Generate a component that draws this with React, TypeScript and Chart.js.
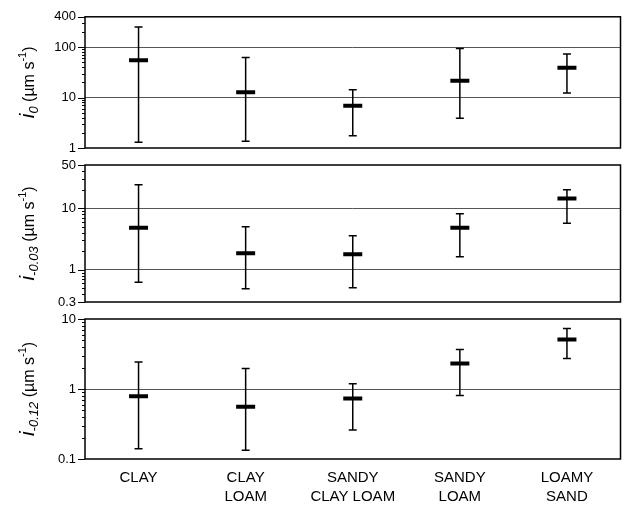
import React, { useEffect, useRef } from "react";
import { Chart, registerables } from "chart.js";

Chart.register(...registerables);

// ---------- data ----------
const categories: string[][] = [
  ["CLAY"],
  ["CLAY", "LOAM"],
  ["SANDY", "CLAY LOAM"],
  ["SANDY", "LOAM"],
  ["LOAMY", "SAND"],
];

// i_0 (µm s-1)
const i0Min = [1.3, 1.36, 1.74, 3.9, 12.3];
const i0Median = [55, 12.8, 6.85, 21.6, 39];
const i0Max = [252, 62, 14.3, 94, 73];

// i_-0.03 (µm s-1)
const i003Min = [0.63, 0.49, 0.51, 1.62, 5.7];
const i003Median = [4.8, 1.86, 1.79, 4.8, 14.3];
const i003Max = [24, 5.0, 3.57, 8.1, 19.8];

// i_-0.12 (µm s-1)
const i012Min = [0.14, 0.133, 0.26, 0.81, 2.72];
const i012Median = [0.79, 0.56, 0.73, 2.31, 5.1];
const i012Max = [2.44, 1.96, 1.19, 3.66, 7.3];

// tick labels
const i0Ticks = [1, 10, 100, 400];
const i003Ticks = [0.3, 1, 10, 50];
const i012Ticks = [0.1, 1, 10];

const i0Sub = "0";
const i003Sub = "-0.03";
const i012Sub = "-0.12";

// ---------- styling ----------
const FONT = '"Liberation Sans", Arial, Helvetica, sans-serif';
const W = 634;
const H = 505;
const PLOT_LEFT = 85;
const PLOT_RIGHT = 633;

type Panel = {
  lo: number[];
  med: number[];
  hi: number[];
  ticks: number[];
  sub: string;
  top: number;
  bottom: number;
  showX: boolean;
};

const panels: Panel[] = [
  { lo: i0Min, med: i0Median, hi: i0Max, ticks: i0Ticks, sub: i0Sub, top: 10, bottom: 148, showX: false },
  { lo: i003Min, med: i003Median, hi: i003Max, ticks: i003Ticks, sub: i003Sub, top: 165, bottom: 302, showX: false },
  { lo: i012Min, med: i012Median, hi: i012Max, ticks: i012Ticks, sub: i012Sub, top: 319, bottom: 459, showX: true },
];

function makeChart(canvas: HTMLCanvasElement, p: Panel) {
  const yMin = p.ticks[0];
  const yMax = p.ticks[p.ticks.length - 1];
  const X_AXIS_H = p.showX ? 46 : 0;

  const whiskers = {
    id: "whiskers",
    beforeDatasetsDraw(chart: any) {
      const { ctx } = chart;
      const x = chart.scales.x;
      const y = chart.scales.y;
      ctx.save();
      ctx.strokeStyle = "#000";
      ctx.lineWidth = 1.5;
      p.lo.forEach((lo, i) => {
        const px = x.getPixelForValue(i);
        const y1 = y.getPixelForValue(lo);
        const y2 = y.getPixelForValue(p.hi[i]);
        ctx.beginPath();
        ctx.moveTo(px, y1);
        ctx.lineTo(px, y2);
        ctx.moveTo(px - 4, y1);
        ctx.lineTo(px + 4, y1);
        ctx.moveTo(px - 4, y2);
        ctx.lineTo(px + 4, y2);
        ctx.stroke();
      });
      ctx.restore();
    },
  };

  const frame = {
    id: "frame",
    afterDraw(chart: any) {
      const { ctx, chartArea } = chart;
      const y = chart.scales.y;
      ctx.save();
      ctx.strokeStyle = "#000";
      ctx.lineWidth = 1.5;
      ctx.strokeRect(chartArea.left, chartArea.top, chartArea.right - chartArea.left, chartArea.bottom - chartArea.top);
      // minor / major tick marks on the left axis
      ctx.lineWidth = 1;
      const d0 = Math.floor(Math.log10(yMin));
      const d1 = Math.ceil(Math.log10(yMax));
      for (let d = d0; d <= d1; d++) {
        for (let k = 1; k <= 9; k++) {
          const v = parseFloat((k * Math.pow(10, d)).toPrecision(6));
          if (v < yMin - 1e-9 || v > yMax + 1e-9) continue;
          const major = k === 1 || p.ticks.includes(v);
          const len = major ? 7 : 3;
          const py = Math.round(y.getPixelForValue(v)) + 0.5;
          ctx.beginPath();
          ctx.moveTo(chartArea.left - len, py);
          ctx.lineTo(chartArea.left, py);
          ctx.stroke();
        }
      }
      for (const v of [yMin, yMax]) {
        const py = Math.round(y.getPixelForValue(v)) + 0.5;
        ctx.beginPath();
        ctx.moveTo(chartArea.left - 7, py);
        ctx.lineTo(chartArea.left, py);
        ctx.stroke();
      }
      ctx.restore();

      // rotated y title: i_sub (µm s^-1)
      const segs = [
        { t: "i", f: `italic 21px ${FONT}`, dy: 0 },
        { t: p.sub, f: `italic 13px ${FONT}`, dy: 4 },
        { t: " (\u00b5m s", f: `16px ${FONT}`, dy: 0 },
        { t: "-1", f: `11px ${FONT}`, dy: -8 },
        { t: ")", f: `16px ${FONT}`, dy: 0 },
      ];
      ctx.save();
      let total = 0;
      const widths = segs.map((s) => {
        ctx.font = s.f;
        const w = ctx.measureText(s.t).width;
        total += w;
        return w;
      });
      const cy = (chartArea.top + chartArea.bottom) / 2;
      ctx.translate(34, cy);
      ctx.rotate(-Math.PI / 2);
      ctx.fillStyle = "#000";
      ctx.textBaseline = "alphabetic";
      ctx.textAlign = "left";
      let xPos = -total / 2;
      segs.forEach((s, i) => {
        ctx.font = s.f;
        ctx.fillText(s.t, xPos, s.dy);
        xPos += widths[i];
      });
      ctx.restore();
    },
  };

  return new Chart(canvas, {
    type: "line",
    data: {
      labels: categories as any,
      datasets: [
        {
          data: p.med,
          showLine: false,
          pointStyle: "line",
          pointRadius: 9.5,
          pointHoverRadius: 9.5,
          borderWidth: 4,
          borderColor: "#000",
          backgroundColor: "#000",
        },
      ],
    },
    options: {
      responsive: false,
      animation: false,
      events: [],
      layout: {
        padding: {
          left: 0,
          right: W - PLOT_RIGHT,
          top: p.top,
          bottom: H - p.bottom - X_AXIS_H,
        },
      },
      plugins: {
        legend: { display: false },
        tooltip: { enabled: false },
        title: { display: false },
      },
      scales: {
        x: {
          type: "category",
          offset: true,
          display: p.showX,
          grid: { display: false, drawTicks: false },
          border: { display: false },
          ticks: {
            color: "#000",
            padding: 9,
            maxRotation: 0,
            autoSkip: false,
            font: { family: FONT, size: 15, lineHeight: 1.27 },
          },
          afterFit: (s: any) => {
            s.height = X_AXIS_H;
          },
        },
        y: {
          type: "logarithmic",
          min: yMin,
          max: yMax,
          grid: {
            drawTicks: false,
            lineWidth: 1,
            color: (c: any) =>
              c.tick && (c.tick.value === yMin || c.tick.value === yMax) ? "rgba(0,0,0,0)" : "#555",
          },
          border: { display: false },
          ticks: {
            color: "#000",
            padding: 9,
            autoSkip: false,
            font: { family: FONT, size: 13 },
            callback: (v: any) => String(v),
          },
          afterBuildTicks: (s: any) => {
            s.ticks = p.ticks.map((v) => ({ value: v }));
          },
          afterFit: (s: any) => {
            s.width = PLOT_LEFT;
          },
        },
      },
    },
    plugins: [whiskers, frame],
  } as any);
}

export default function App() {
  const r0 = useRef<HTMLCanvasElement>(null);
  const r1 = useRef<HTMLCanvasElement>(null);
  const r2 = useRef<HTMLCanvasElement>(null);

  useEffect(() => {
    const refs = [r0, r1, r2];
    const charts = panels.map((p, i) => makeChart(refs[i].current as HTMLCanvasElement, p));
    return () => charts.forEach((c) => c.destroy());
  }, []);

  const cs: React.CSSProperties = { position: "absolute", left: 0, top: 0 };
  return (
    <div style={{ position: "fixed", left: 0, top: 0, width: W, height: H, background: "#fff" }}>
      <canvas ref={r0} width={W} height={H} style={cs} />
      <canvas ref={r1} width={W} height={H} style={cs} />
      <canvas ref={r2} width={W} height={H} style={cs} />
    </div>
  );
}
